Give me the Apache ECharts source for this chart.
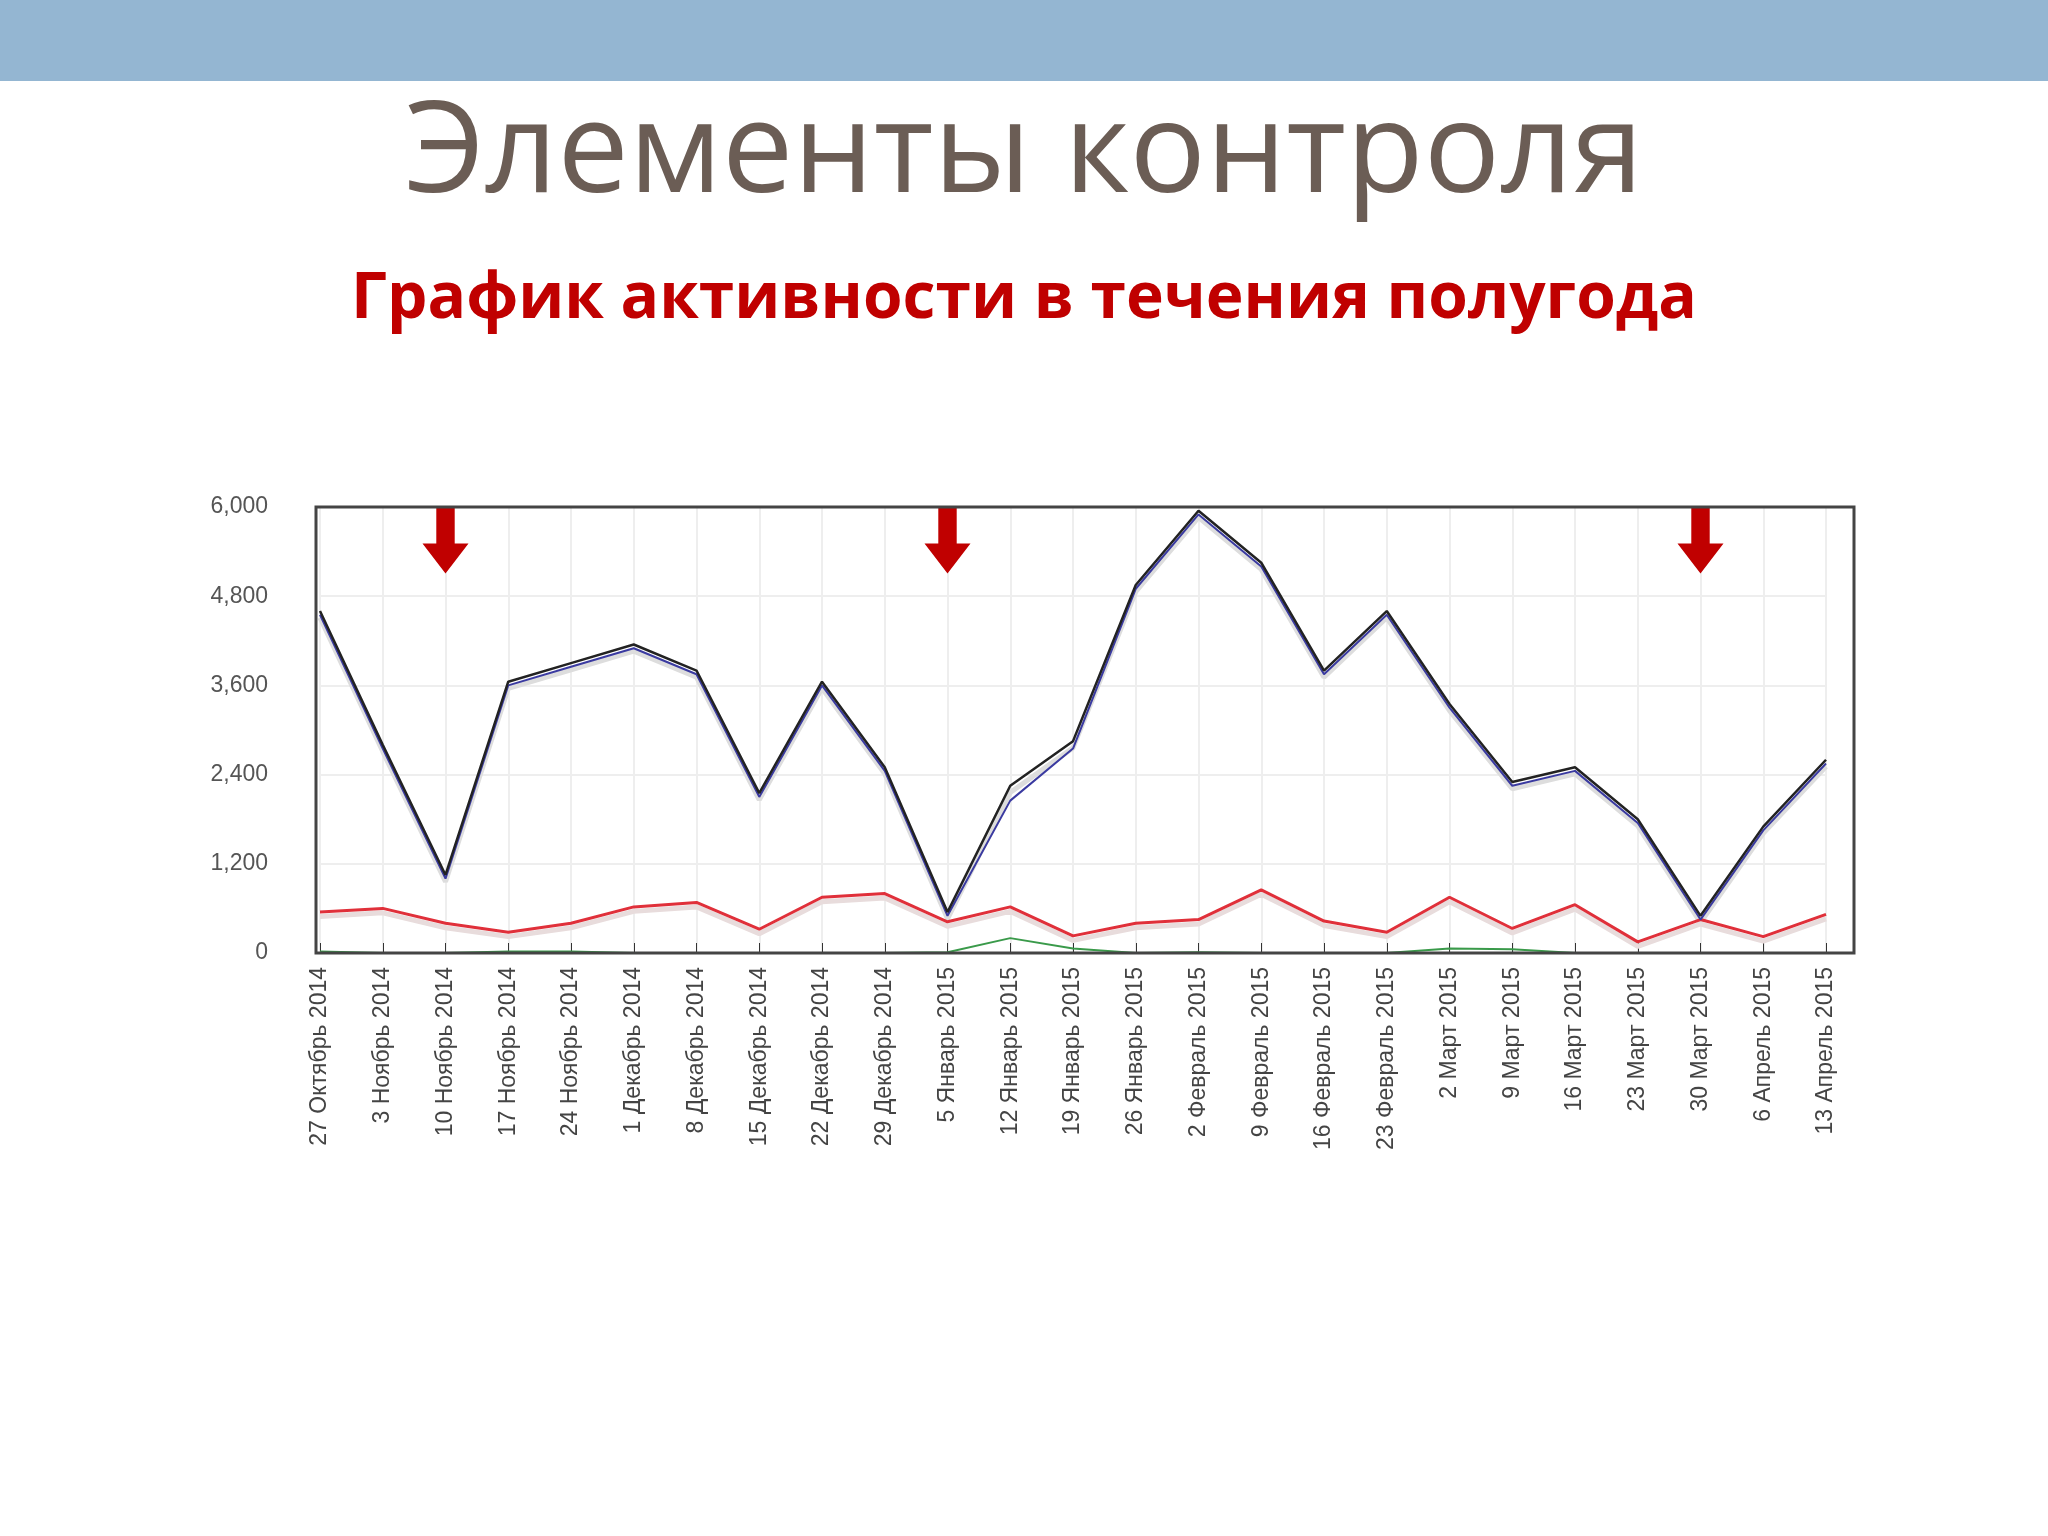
<!DOCTYPE html>
<html>
<head>
<meta charset="utf-8">
<script src="https://cdn.jsdelivr.net/npm/echarts@6/dist/echarts.min.js"></script>
<style>
html,body{margin:0;padding:0;background:#fff;}
#chart{width:2048px;height:1536px;}
</style>
</head>
<body>
<div id="chart"></div>
<script>
// категории (недели)
var weeks = ['27 Октябрь 2014', '3 Ноябрь 2014', '10 Ноябрь 2014', '17 Ноябрь 2014', '24 Ноябрь 2014',
    '1 Декабрь 2014', '8 Декабрь 2014', '15 Декабрь 2014', '22 Декабрь 2014', '29 Декабрь 2014',
    '5 Январь 2015', '12 Январь 2015', '19 Январь 2015', '26 Январь 2015', '2 Февраль 2015',
    '9 Февраль 2015', '16 Февраль 2015', '23 Февраль 2015', '2 Март 2015', '9 Март 2015',
    '16 Март 2015', '23 Март 2015', '30 Март 2015', '6 Апрель 2015', '13 Апрель 2015']
var totalVals = [4600, 2800, 1050, 3650, 3900, 4150, 3800, 2150, 3650, 2500, 550, 2250, 2850,
    4950, 5950, 5250, 3800, 4600, 3350, 2300, 2500, 1800, 500, 1700, 2600]
var blueVals = [4550, 2750, 1000, 3600, 3850, 4100, 3750, 2100, 3600, 2450, 500, 2050, 2750,
    4900, 5900, 5200, 3750, 4550, 3300, 2250, 2450, 1750, 450, 1650, 2550]
var redVals = [550, 600, 400, 280, 400, 620, 680, 320, 750, 800, 420, 620, 230, 400, 450, 850,
    430, 280, 750, 330, 650, 150, 450, 220, 520]
var greenVals = [20, 0, 0, 20, 20, 0, 0, 0, 0, 0, 10, 200, 60, 0, 10, 0, 0, 0, 60, 50, 0, 0, 0, 0, 0]
var arrowWeeks = ['10 Ноябрь 2014', '5 Январь 2015', '30 Март 2015']
var yTicks = [0, 1200, 2400, 3600, 4800, 6000]

var arrowPath = 'path://M30,0 L70,0 L70,60 L100,60 L50,110 L0,60 L30,60 Z'

var myChart = echarts.init(document.getElementById('chart'))
var option = {
    backgroundColor: '#fff',
    animation: false,
    graphic: [
        { type: 'rect', shape: { x: 0, y: 0, width: 2048, height: 81 }, style: { fill: '#94b6d2' } },
        { type: 'text', left: 'center', top: 92, style: { text: 'Элементы контроля', font: '127px "Open Sans", "Noto Sans", sans-serif', fill: '#6b5d55' } },
        { type: 'text', left: 'center', top: 268, style: { text: 'График активности в течения полугода', font: 'bold 64px "Open Sans", "Noto Sans", sans-serif', fill: '#c00000' } },
        { type: 'rect', z: 10, shape: { x: 316, y: 507, width: 1538, height: 446 }, style: { fill: 'none', stroke: '#444', lineWidth: 3 } }
    ],
    grid: { left: 320, right: 222, top: 507, bottom: 583 },
    xAxis: {
        type: 'category',
        data: weeks,
        boundaryGap: false,
        axisLine: { lineStyle: { color: '#333', width: 2 } },
        axisTick: { show: true, inside: true, length: 10, lineStyle: { color: '#333' } },
        splitLine: { show: true, lineStyle: { color: '#eeeeee', width: 2 } },
        axisLabel: { rotate: 90, interval: 0, color: '#444', fontSize: 23, fontFamily: 'Liberation Sans Narrow, Liberation Sans', margin: 14 }
    },
    yAxis: {
        type: 'value',
        min: 0,
        max: 6000,
        interval: 1200,
        axisLine: { show: false },
        axisTick: { show: false },
        splitLine: { lineStyle: { color: '#eeeeee', width: 2 } },
        axisLabel: {
            color: '#555', fontSize: 23, fontFamily: 'Liberation Sans Narrow, Liberation Sans', margin: 52,
            formatter: function (v) { return yTicks.indexOf(v) >= 0 ? v.toLocaleString('en-US') : '' }
        }
    },
    series: [
        { type: 'line', data: totalVals.map(function (v) { return v - 90 }), symbol: 'none', lineStyle: { color: '#dddddd', width: 5 }, z: 1 },
        { type: 'line', data: redVals.map(function (v) { return v - 60 }), symbol: 'none', lineStyle: { color: '#e8dcdc', width: 5 }, z: 1 },
        { type: 'line', data: greenVals, symbol: 'none', lineStyle: { color: '#3a9a4a', width: 2 }, z: 3 },
        { type: 'line', data: redVals, symbol: 'none', lineStyle: { color: '#e0303a', width: 3 }, z: 3 },
        { type: 'line', data: blueVals, symbol: 'none', lineStyle: { color: '#3a3aa0', width: 2 }, z: 3 },
        {
            type: 'line', data: totalVals, symbol: 'none', lineStyle: { color: '#222', width: 2.5 }, z: 4,
            markPoint: {
                symbol: arrowPath,
                symbolSize: [46, 66],
                symbolOffset: [0, 0],
                itemStyle: { color: '#c00000' },
                label: { show: false },
                data: arrowWeeks.map(function (w) { return { coord: [w, 5550] } })
            }
        }
    ]
}
myChart.setOption(option)
</script>
</body>
</html>
